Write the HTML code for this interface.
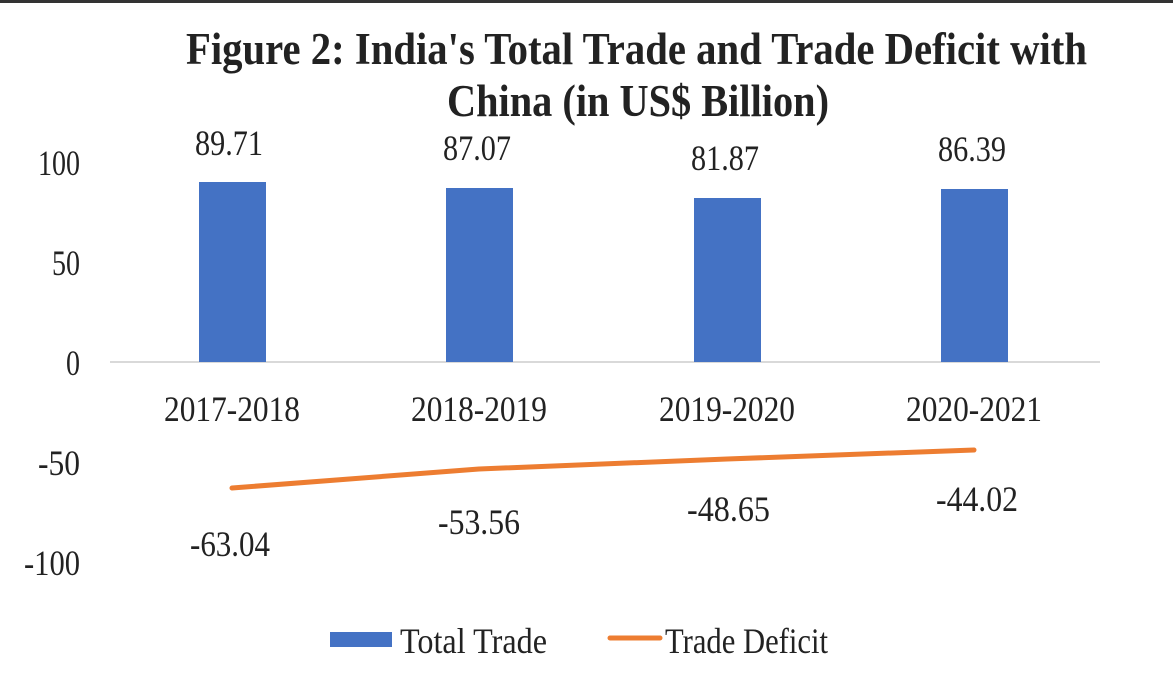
<!DOCTYPE html>
<html><head><meta charset="utf-8"><style>
html,body{margin:0;padding:0;background:#fff;}
svg{display:block;}
text{font-family:"Liberation Serif",serif;fill:#222;}
</style></head><body>
<svg width="1173" height="692" viewBox="0 0 1173 692" xmlns="http://www.w3.org/2000/svg">
<rect x="0" y="0" width="1173" height="692" fill="#fff"/>
<rect x="0" y="0" width="1173" height="3" fill="#333"/>
<text x="186" y="64" font-size="45" font-weight="bold" textLength="901" lengthAdjust="spacingAndGlyphs" fill="#111">Figure 2: India's Total Trade and Trade Deficit with</text>
<text x="447" y="116" font-size="45" font-weight="bold" textLength="382" lengthAdjust="spacingAndGlyphs" fill="#111">China (in US$ Billion)</text>
<g font-size="36">
<text x="80" y="175" text-anchor="end" textLength="42" lengthAdjust="spacingAndGlyphs">100</text>
<text x="80" y="275" text-anchor="end" textLength="28" lengthAdjust="spacingAndGlyphs">50</text>
<text x="80" y="375" text-anchor="end" textLength="14" lengthAdjust="spacingAndGlyphs">0</text>
<text x="80" y="475" text-anchor="end" textLength="42" lengthAdjust="spacingAndGlyphs">-50</text>
<text x="80" y="575" text-anchor="end" textLength="56" lengthAdjust="spacingAndGlyphs">-100</text>
</g>
<line x1="110" y1="362" x2="1100" y2="362" stroke="#d9d9d9" stroke-width="2"/>
<g fill="#4472C4">
<rect x="199" y="182" width="67" height="180"/>
<rect x="446" y="188" width="67" height="174"/>
<rect x="694" y="198" width="67" height="164"/>
<rect x="941" y="189" width="67" height="173"/>
</g>
<g font-size="36">
<text x="195" y="155" textLength="68" lengthAdjust="spacingAndGlyphs">89.71</text>
<text x="443" y="160" textLength="68" lengthAdjust="spacingAndGlyphs">87.07</text>
<text x="691" y="170" textLength="68" lengthAdjust="spacingAndGlyphs">81.87</text>
<text x="938" y="161" textLength="68" lengthAdjust="spacingAndGlyphs">86.39</text>
<text x="164" y="421" textLength="136" lengthAdjust="spacingAndGlyphs">2017-2018</text>
<text x="411" y="421" textLength="136" lengthAdjust="spacingAndGlyphs">2018-2019</text>
<text x="659" y="421" textLength="136" lengthAdjust="spacingAndGlyphs">2019-2020</text>
<text x="906" y="421" textLength="136" lengthAdjust="spacingAndGlyphs">2020-2021</text>
</g>
<polyline points="232,488 479,469 727,459 974,450" fill="none" stroke="#ED7D31" stroke-width="5" stroke-linecap="round" stroke-linejoin="round"/>
<g font-size="36">
<text x="190" y="556" textLength="80" lengthAdjust="spacingAndGlyphs">-63.04</text>
<text x="438" y="534" textLength="82" lengthAdjust="spacingAndGlyphs">-53.56</text>
<text x="687" y="521" textLength="83" lengthAdjust="spacingAndGlyphs">-48.65</text>
<text x="936" y="511" textLength="82" lengthAdjust="spacingAndGlyphs">-44.02</text>
</g>
<rect x="330" y="632" width="62" height="15" fill="#4472C4"/>
<text x="400" y="653" font-size="36" textLength="147" lengthAdjust="spacingAndGlyphs">Total Trade</text>
<line x1="610" y1="638" x2="660" y2="638" stroke="#ED7D31" stroke-width="5" stroke-linecap="round"/>
<text x="665" y="653" font-size="36" textLength="163" lengthAdjust="spacingAndGlyphs">Trade Deficit</text>
</svg>
</body></html>
